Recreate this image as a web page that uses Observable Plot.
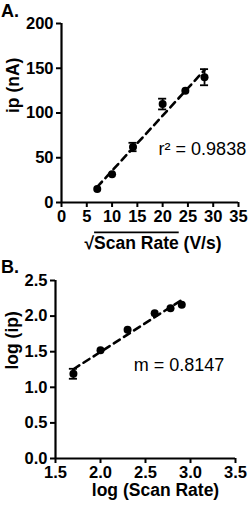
<!DOCTYPE html>
<html><head><meta charset="utf-8">
<script src="https://cdn.jsdelivr.net/npm/d3@7"></script>
<script src="https://cdn.jsdelivr.net/npm/@observablehq/plot@0.6"></script>
<style>
body{margin:0;background:#fff;}
.panel{position:relative;width:251px;height:257px;}
.panel svg{display:block;overflow:visible;}
.tag{position:absolute;left:1px;font:bold 18px "Liberation Sans",Arial,sans-serif;color:#000;}
</style></head><body>
<div class="panel" id="pa"><div class="tag" style="top:1px">A.</div></div>
<div class="panel" id="pb"><div class="tag" style="top:0px">B.</div></div>
<script>
// Panel A data
const sqrtScanRate = [7.07, 10, 14.14, 20, 24.49, 28.28];
const ipNA = [15, 31.5, 62, 110, 125, 140];
const ipErr = [0, 0, 4.7, 6, 0, 9];
// Panel B data
const logScanRate = [1.699, 2, 2.301, 2.602, 2.778, 2.903];
const logIp = [1.19, 1.52, 1.81, 2.04, 2.11, 2.16];
const logIpErr = [0.07, 0, 0, 0, 0, 0];
// ticks & labels
const xTicksA = [0, 5, 10, 15, 20, 25, 30, 35];
const yTicksA = [0, 50, 100, 150, 200];
const xTicksB = [1.5, 2.0, 2.5, 3.0, 3.5];
const yTicksB = [0, 0.5, 1.0, 1.5, 2.0, 2.5];
const xTitleA = "√Scan Rate (V/s)";
const yTitleA = "ip (nA)";
const xTitleB = "log (Scan Rate)";
const yTitleB = "log (ip)";
const noteA = "r² = 0.9838";
const noteB = "m = 0.8147";

const dataA = sqrtScanRate.map((x, i) => ({x, y: ipNA[i], e: ipErr[i]}));
const dataB = logScanRate.map((x, i) => ({x, y: logIp[i], e: logIpErr[i]}));

const font = "Liberation Sans, Arial, sans-serif";
const baseStyle = {fontFamily: font, fontSize: "16.5px", fontWeight: "bold", color: "black", background: "white", overflow: "visible"};

function panel(data, o) {
  const errs = data.filter(d => d.e > 0);
  return Plot.plot({
    width: 251, height: 257,
    marginTop: 23, marginBottom: o.mb, marginLeft: o.ml, marginRight: o.mr,
    style: baseStyle,
    x: {domain: o.xd}, y: {domain: o.yd},
    marks: [
      Plot.axisX({ticks: o.xt, tickSize: 5, strokeWidth: 2, tickPadding: 3, label: null, tickFormat: o.fmt}),
      Plot.axisY({ticks: o.yt, tickSize: 5, strokeWidth: 2, tickPadding: 3, label: null, tickFormat: o.fmt}),
      Plot.ruleY([o.yd[0]], {strokeWidth: 2.2}),
      Plot.ruleX([o.xd[0]], {strokeWidth: 2.2}),
      Plot.linearRegressionY(data, {x: "x", y: "y", ci: 0, stroke: "black", strokeWidth: 2.6, strokeDasharray: "7,5"}),
      Plot.ruleX(errs, {x: "x", y1: d => d.y - d.e, y2: d => d.y + d.e, strokeWidth: 1.8}),
      Plot.ruleY(errs, {y: d => d.y - d.e, x1: d => d.x - o.cap, x2: d => d.x + o.cap, strokeWidth: 1.8}),
      Plot.ruleY(errs, {y: d => d.y + d.e, x1: d => d.x - o.cap, x2: d => d.x + o.cap, strokeWidth: 1.8}),
      Plot.dot(data, {x: "x", y: "y", r: 4, fill: "black", stroke: "none"}),
      Plot.text([o.note], {x: o.nx, y: o.ny, text: d => d, textAnchor: "start", fontWeight: "normal", fontSize: 18}),
      Plot.text([o.xTitle], {text: d => d, frameAnchor: "bottom", dy: o.xdy, dx: o.xdx, fontSize: 17.5}),
      Plot.text([o.yTitle], {text: d => d, frameAnchor: "left", dx: o.ydx, rotate: -90, fontSize: 17.5})
    ]
  });
}

const svgA = panel(dataA, {mb: 55, ml: 61, mr: 13, xd: [0, 35], yd: [0, 200], xt: xTicksA, yt: yTicksA, fmt: d3.format("d"),
  cap: 0.8, note: noteA, nx: 19.2, ny: 60, xTitle: xTitleA, yTitle: yTitleA, xdy: 46, xdx: 3, ydx: -48});
const svgB = panel(dataB, {mb: 56, ml: 55, mr: 16, xd: [1.5, 3.5], yd: [0, 2.5], xt: xTicksB, yt: yTicksB, fmt: d3.format(".1f"),
  cap: 0.045, note: noteB, nx: 2.37, ny: 1.31, xTitle: xTitleB, yTitle: yTitleB, xdy: 37, xdx: 10, ydx: -43});

document.getElementById("pa").appendChild(svgA);
document.getElementById("pb").appendChild(svgB);

// overline over "Scan Rate" in the square-root title
const t = [...svgA.querySelectorAll("text")].find(e => e.textContent === xTitleA);
if (t) {
  t.textContent = "";
  const ns = "http://www.w3.org/2000/svg";
  const a = document.createElementNS(ns, "tspan"); a.textContent = "√";
  const b = document.createElementNS(ns, "tspan"); b.textContent = "Scan Rate"; b.setAttribute("text-decoration", "overline");
  b.style.textDecoration = "overline";
  const c = document.createElementNS(ns, "tspan"); c.textContent = " (V/s)";
  t.append(a, b, c);
}
</script>
</body></html>
